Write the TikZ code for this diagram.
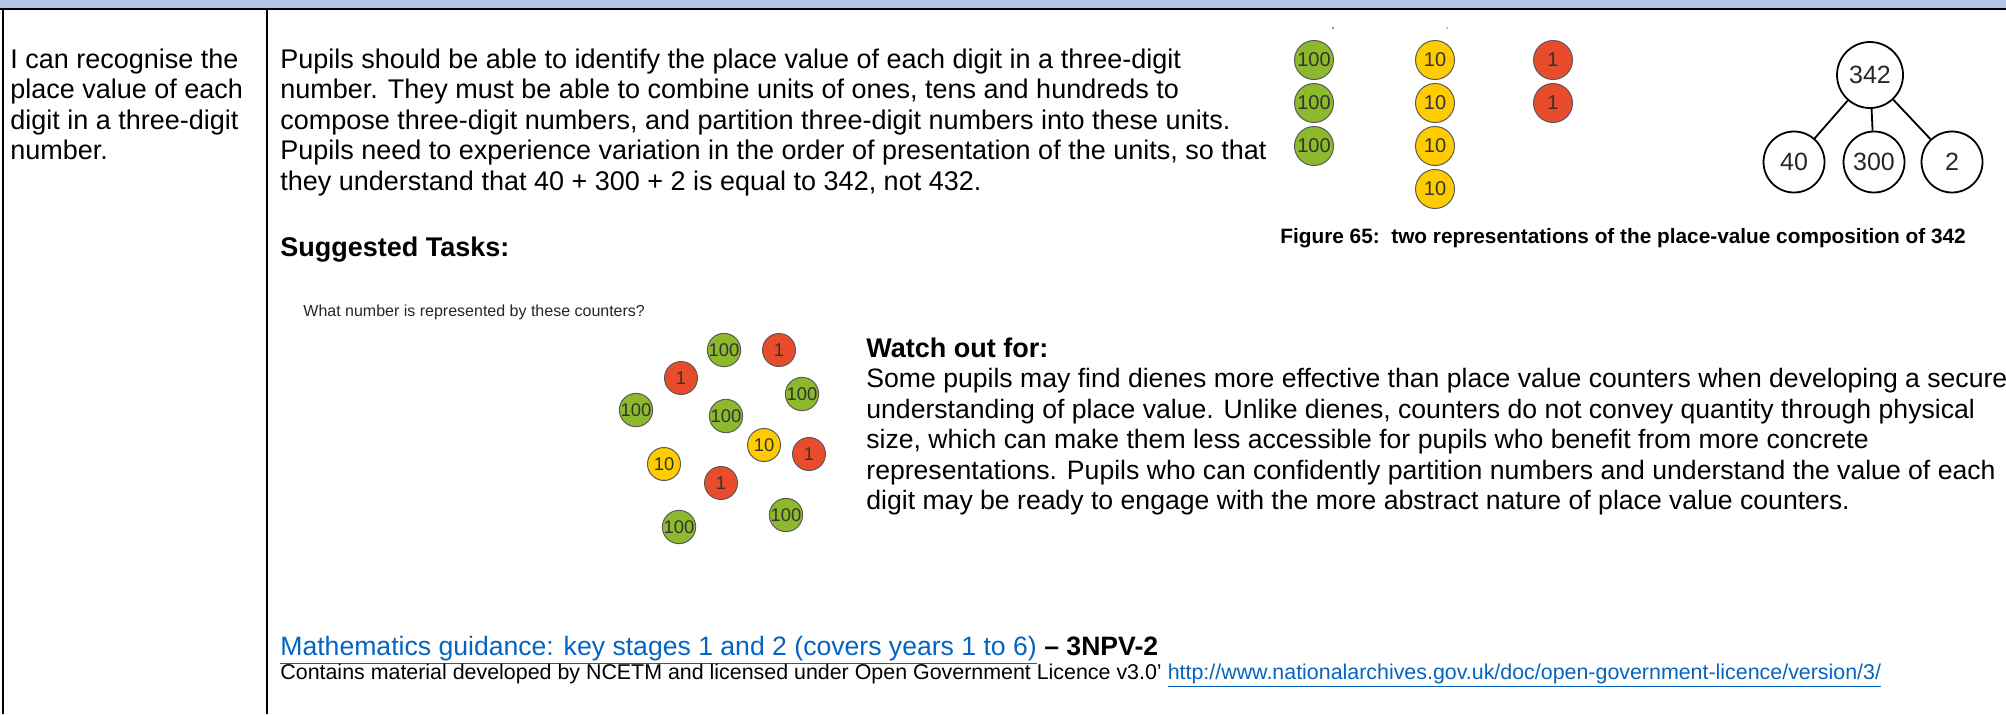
\documentclass[tikz,border=0pt]{standalone}
\usepackage{fontspec}
\setmainfont{Liberation Sans}
\definecolor{hdrblue}{HTML}{B4C6E7}
\definecolor{hgreen}{HTML}{8DB92C}
\definecolor{tyellow}{HTML}{FFCC00}
\definecolor{ored}{HTML}{E84C2C}
\definecolor{linkblue}{HTML}{0563C1}
\tikzset{
  rule/.style={line width=1pt},
  body/.style={inner sep=0pt, anchor=base west, font=\fontsize{13.5}{15.25}\selectfont},
  bodyb/.style={body, font=\fontsize{13.5}{15.25}\selectfont\bfseries},
  watch/.style={body, font=\fontsize{13.3}{15}\selectfont},
  cnt/.style={circle, draw=black!65, line width=0.5pt, inner sep=0pt, minimum size=19.5pt, text=black!80, font=\fontsize{10}{10}\selectfont},
  hund/.style={cnt, fill=hgreen},
  ten/.style={cnt, fill=tyellow},
  one/.style={cnt, fill=ored},
  cnts/.style={minimum size=16.5pt, font=\fontsize{9.2}{9.2}\selectfont},
  pw/.style={circle, draw, line width=0.9pt, inner sep=0pt, minimum size=30.5pt, text=black!85, font=\fontsize{12.5}{12.5}\selectfont}
}
\begin{document}
\begin{tikzpicture}[x=0.5pt, y=-0.5pt]
	\clip (0,0) rectangle (2006,714);
	% header band and table rules
	\fill[hdrblue] (0,0) rectangle (2006,8.5);
	\draw[rule] (0,9.3) -- (2006,9.3);
	\draw[rule] (3.2,9.3) -- (3.2,714);
	\draw[rule] (266.7,9.3) -- (266.7,714);
	% objective
	\node[body] (obj1) at (10,68) {I can recognise the};
	\node[body] (obj2) at (10,98.5) {place value of each};
	\node[body] (obj3) at (10,129) {digit in a three-digit};
	\node[body] (obj4) at (10,159.5) {number.};
	% guidance
	\node[body] (g1) at (280,68) {Pupils should be able to identify the place value of each digit in a three-digit};
	\node[body] (g2) at (280,98.5) {number. They must be able to combine units of ones, tens and hundreds to};
	\node[body] (g3) at (280,129) {compose three-digit numbers, and partition three-digit numbers into these units.};
	\node[body] (g4) at (280,159.5) {Pupils need to experience variation in the order of presentation of the units, so that};
	\node[body] (g5) at (280,190) {they understand that 40 + 300 + 2 is equal to 342, not 432.};
	\node[bodyb] (sug) at (280,256) {Suggested Tasks:};
	\node[body, font=\fontsize{8}{9}\selectfont, text=black!85] (quest) at (303,316) {What number is represented by these counters?};
	% figure 65: counters
	\fill[black!60] (1333,28) circle (1.2);
	\fill[black!40] (1447,28) circle (1);
	\node[hund] (h1) at (1314,60) {100};
	\node[hund] (h2) at (1314,103) {100};
	\node[hund] (h3) at (1314,146) {100};
	\node[ten] (t1) at (1435,60) {10};
	\node[ten] (t2) at (1435,103) {10};
	\node[ten] (t3) at (1435,146) {10};
	\node[ten] (t4) at (1435,189) {10};
	\node[one] (o1) at (1553,60) {1};
	\node[one] (o2) at (1553,103) {1};
	% part-whole model
	\node[pw, minimum size=33pt] (whole) at (1870,75) {342};
	\node[pw] (pa) at (1794,162) {40};
	\node[pw] (pb) at (1874,162) {300};
	\node[pw] (pc) at (1952,162) {2};
	\draw[line width=0.9pt] (whole) -- (pa);
	\draw[line width=0.9pt] (whole) -- (pb);
	\draw[line width=0.9pt] (whole) -- (pc);
	\node[body, font=\fontsize{10.4}{11}\selectfont\bfseries] (cap) at (1280,243) {Figure 65:\ \ two representations of the place-value composition of 342};
	% task counters
	\node[hund, cnts] (s1) at (724,350) {100};
	\node[one, cnts] (s2) at (779,350) {1};
	\node[one, cnts] (s3) at (681,378) {1};
	\node[hund, cnts] (s4) at (802,394) {100};
	\node[hund, cnts] (s5) at (636,410) {100};
	\node[hund, cnts] (s6) at (726,416) {100};
	\node[ten, cnts] (s7) at (764,445) {10};
	\node[one, cnts] (s8) at (809,454) {1};
	\node[ten, cnts] (s9) at (664,464) {10};
	\node[one, cnts] (s10) at (721,483) {1};
	\node[hund, cnts] (s11) at (786,515) {100};
	\node[hund, cnts] (s12) at (679,527) {100};
	% watch out
	\node[bodyb] (wo) at (866,357) {Watch out for:};
	\node[watch] (w1) at (866,387.5) {Some pupils may find dienes more effective than place value counters when developing a secure};
	\node[watch] (w2) at (866,418) {understanding of place value. Unlike dienes, counters do not convey quantity through physical};
	\node[watch] (w3) at (866,448.5) {size, which can make them less accessible for pupils who benefit from more concrete};
	\node[watch] (w4) at (866,479) {representations. Pupils who can confidently partition numbers and understand the value of each};
	\node[watch] (w5) at (866,509.5) {digit may be ready to engage with the more abstract nature of place value counters.};
	% reference
	\node[watch] (lnk) at (280,655) {\textcolor{linkblue}{\underline{Mathematics guidance: key stages 1 and 2 (covers years 1 to 6)}} \textbf{– 3NPV-2}};
	\node[body, font=\fontsize{10.7}{12}\selectfont] (lic) at (280,679) {Contains material developed by NCETM and licensed under Open Government Licence v3.0’ \textcolor{linkblue}{\underline{http://www.nationalarchives.gov.uk/doc/open-government-licence/version/3/}}};
\end{tikzpicture}
\end{document}
